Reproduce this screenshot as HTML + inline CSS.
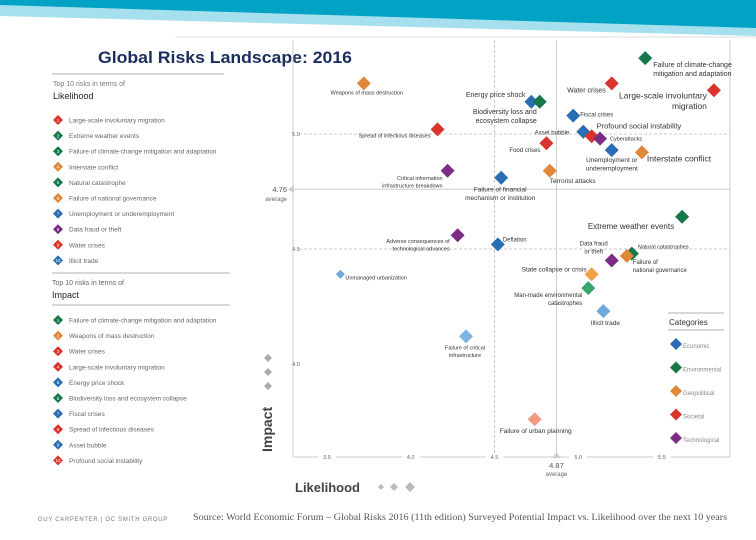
<!DOCTYPE html>
<html><head><meta charset="utf-8"><style>
html,body{margin:0;padding:0;background:#fff;}
svg{display:block;font-family:"Liberation Sans",sans-serif;}
</style></head><body>
<svg id="chart" width="756" height="540" viewBox="0 0 756 540" xmlns="http://www.w3.org/2000/svg">
<g>
<polygon points="0,0 756,0 756,36 0,16" fill="#a6dfee"/>
<polygon points="0,0 756,0 756,28 0,5" fill="#00a3c4"/>
<line x1="175" y1="37" x2="756" y2="37" stroke="#ddd" stroke-width="1"/>
</g>
<text x="98" y="63" font-size="17" font-weight="bold" fill="#1b2c5e" textLength="254" lengthAdjust="spacingAndGlyphs">Global Risks Landscape:  2016</text>

<g id="leftpanel">
<line x1="52" y1="74" x2="224" y2="74" stroke="#999" stroke-width="0.8"/>
<text x="53" y="86" font-size="7" fill="#777">Top 10 risks in terms of</text>
<text x="53" y="99" font-size="9" fill="#222">Likelihood</text>
<line x1="52" y1="273" x2="230" y2="273" stroke="#999" stroke-width="0.8"/>
<text x="52" y="285" font-size="7" fill="#666">Top 10 risks in terms of</text>
<text x="52" y="298" font-size="9" fill="#222">Impact</text>
<line x1="52" y1="305" x2="230" y2="305" stroke="#999" stroke-width="0.8"/>
</g>

<g id="grid"></g>
<g id="marks"></g>

<g>
<text transform="translate(272,452) rotate(-90)" font-size="14" font-weight="bold" fill="#444">Impact</text>
<text x="295" y="492" font-size="13" font-weight="bold" fill="#444">Likelihood</text>
<path d="M381,484 l3,3 l-3,3 l-3,-3z M394,483 l4,4 l-4,4 l-4,-4z M410,482 l5,5 l-5,5 l-5,-5z" fill="#bbb"/>
<path d="M268,354 l4,4 l-4,4 l-4,-4z M268,368 l4,4 l-4,4 l-4,-4z M268,382 l4,4 l-4,4 l-4,-4z" fill="#aaa"/>
</g>

<g>
<line x1="668" y1="313" x2="724" y2="313" stroke="#999" stroke-width="0.8"/>
<line x1="668" y1="330" x2="724" y2="330" stroke="#999" stroke-width="0.8"/>
<text x="669" y="325" font-size="8" fill="#333">Categories</text>
<g id="legend"></g>
</g>

<text x="38" y="521" font-size="6.5" fill="#777" letter-spacing="0.8" textLength="130" lengthAdjust="spacingAndGlyphs">GUY CARPENTER | OC SMITH GROUP</text>
<text x="193" y="520" font-size="9.5" fill="#555" font-family="Liberation Serif, serif" textLength="534" lengthAdjust="spacingAndGlyphs">Source:  World Economic Forum – Global Risks 2016 (11th edition) Surveyed Potential Impact vs. Likelihood over the next 10 years</text>
</svg>
<script>
const risks = ["Failure of climate-change mitigation and adaptation","Large-scale involuntary migration","Water crises","Weapons of mass destruction","Energy price shock","Biodiversity loss and ecosystem collapse","Fiscal crises","Asset bubble","Profound social instability","Cyberattacks","Food crises","Unemployment or underemployment","Interstate conflict","Terrorist attacks","Spread of infectious diseases","Critical information infrastructure breakdown","Failure of financial mechanism or institution","Extreme weather events","Adverse consequences of technological advances","Deflation","Data fraud or theft","Natural catastrophes","Failure of national governance","State collapse or crisis","Man-made environmental catastrophes","Illicit trade","Unmanaged urbanization","Failure of critical infrastructure","Failure of urban planning"];
const likelihood = [5.40,5.81,5.20,3.72,4.72,4.77,4.97,5.03,5.08,5.13,4.81,5.20,5.38,4.83,4.16,4.22,4.54,5.62,4.28,4.52,5.20,5.32,5.29,5.08,5.06,5.15,3.58,4.33,4.74];
const impact = [5.33,5.19,5.22,5.22,5.14,5.14,5.08,5.01,4.99,4.98,4.96,4.93,4.92,4.84,5.02,4.84,4.81,4.64,4.56,4.52,4.45,4.48,4.47,4.39,4.33,4.23,4.39,4.12,3.76];
const category = ["N","S","S","G","E","N","E","E","S","T","S","E","G","G","S","T","E","N","T","E","T","N","G","G","N","E","E","E","S"];
const xTicks = [3.5,4.0,4.5,5.0,5.5];
const yTicks = [5.0,4.5,4.0];
const avgLikelihood = 4.87;
const avgImpact = 4.76;
const likelihoodTop = ["Large-scale involuntary migration","Extreme weather events","Failure of climate-change mitigation and adaptation","Interstate conflict","Natural catastrophe","Failure of national governance","Unemployment or underemployment","Data fraud or theft","Water crises","Illicit trade"];
const likelihoodCat = ["S","N","N","G","N","G","E","T","S","E"];
const impactTop = ["Failure of climate-change mitigation and adaptation","Weapons of mass destruction","Water crises","Large-scale involuntary migration","Energy price shock","Biodiversity loss and ecosystem collapse","Fiscal crises","Spread of infectious diseases","Asset bubble","Profound social instability"];
const impactCat = ["N","G","S","S","E","N","E","S","E","S"];
const catNames = ["Economic","Environmental","Geopolitical","Societal","Technological"];
const catKeys = ["E","N","G","S","T"];

const colors = {E:"#2a6db5",N:"#16784a",G:"#e0883a",S:"#d9342b",T:"#7b2d84"};
const lightIdx = {25:"#6fa8dc",26:"#6fa8dc",27:"#7fb3e0",28:"#f29a7e",24:"#3aa56a",23:"#f2a048"};
// label layout: [dx, dy, anchor, fontSize, lines...]
const labelLayout = [
 [8,9,"start",7,"Failure of climate-change","mitigation and adaptation"],
 [-7,8,"end",8.5,"Large-scale involuntary","migration"],
 [-6,9,"end",7,"Water crises"],
 [3,11,"middle",5.5,"Weapons of mass destruction"],
 [-6,-5,"end",7,"Energy price shock"],
 [-3,12,"end",7,"Biodiversity loss and","ecosystem collapse"],
 [7,1,"start",6,"Fiscal crises"],
 [-14,3,"end",6,"Asset bubble"],
 [5,-8,"start",7.5,"Profound social instability"],
 [10,2,"start",5.5,"Cyberattacks"],
 [-6,9,"end",6,"Food crises"],
 [0,12,"middle",6.5,"Unemployment or","underemployment"],
 [5,9,"start",8.5,"Interstate conflict"],
 [0,12,"start",6.5,"Terrorist attacks"],
 [-43,8,"middle",5.5,"Spread of infectious diseases"],
 [-5,9,"end",5.5,"Critical information","infrastructure breakdown"],
 [-1,14,"middle",6.5,"Failure of financial","mechanism or institution"],
 [-8,12,"end",8,"Extreme weather events"],
 [-8,8,"end",5.5,"Adverse consequences of","technological advances"],
 [5,-3,"start",6,"Deflation"],
 [-18,-15,"middle",6,"Data fraud","or theft"],
 [6,-5,"start",5.5,"Natural catastrophes"],
 [6,8,"start",6,"Failure of","national governance"],
 [-5,-3,"end",6.5,"State collapse or crisis"],
 [-6,9,"end",6,"Man-made environmental","catastrophes"],
 [2,14,"middle",6.5,"Illicit trade"],
 [5,5,"start",5.5,"Unmanaged urbanization"],
 [-1,13,"middle",5.5,"Failure of critical","infrastructure"],
 [1,14,"middle",6.5,"Failure of urban planning"]
];

const NS="http://www.w3.org/2000/svg";
const X0=327, XS=167.5, Y0=134, YS=230;
const L=293, R=730, T=40, B=457;
function xScale(v){return X0+(v-3.5)*XS;}
function yScale(v){return Y0-(v-5.0)*YS;}
function mk(tag,attrs,parent){const e=document.createElementNS(NS,tag);for(const k in attrs)e.setAttribute(k,attrs[k]);parent.appendChild(e);return e;}

const grid=document.getElementById("grid");
mk("line",{x1:L,y1:T,x2:L,y2:B,stroke:"#ccc","stroke-width":1},grid);
mk("line",{x1:R,y1:T,x2:R,y2:B,stroke:"#ccc","stroke-width":1},grid);
mk("line",{x1:L,y1:B,x2:R,y2:B,stroke:"#ccc","stroke-width":1},grid);
xTicks.forEach(v=>{
  const x=xScale(v);
  if(v===4.5){const gl=mk("line",{x1:x,y1:T,x2:x,y2:B,stroke:"#bbb","stroke-dasharray":"3,2","stroke-width":0.8},grid);
  
  }
  mk("rect",{x:x-9,y:B-4,width:18,height:8,fill:"#fff"},grid);
  const t=mk("text",{x:x,y:B+2,"font-size":5.5,fill:"#666","text-anchor":"middle"},grid);
  t.textContent=v.toFixed(1);
  
  
});
yTicks.forEach(v=>{
  const y=yScale(v);
  if(v!==4.0){const gl=mk("line",{x1:L+6,y1:y,x2:R,y2:y,stroke:"#bbb","stroke-dasharray":"3,2","stroke-width":0.8},grid);
  
  }
  const t=mk("text",{x:L+3,y:y+2,"font-size":5.5,fill:"#666","text-anchor":"middle"},grid);
  t.textContent=v.toFixed(1);
  
  
});
const ax=xScale(avgLikelihood), ay=yScale(avgImpact);
const avl=mk("line",{x1:ax,y1:T,x2:ax,y2:B,stroke:"#ccc","stroke-width":1},grid);


const avh=mk("line",{x1:L,y1:ay,x2:R,y2:ay,stroke:"#ccc","stroke-width":1},grid);


mk("path",{d:`M${ax-4},${B+1} L${ax+4},${B+1} L${ax},${B-5}z`,fill:"#ccc"},grid);
mk("path",{d:`M${L+1},${ay-4} L${L+1},${ay+4} L${L-5},${ay}z`,fill:"#ccc"},grid);
let t1=mk("text",{x:ax,y:B+11,"font-size":7.5,fill:"#555","text-anchor":"middle"},grid);t1.textContent=avgLikelihood.toFixed(2);


let t2=mk("text",{x:ax,y:B+19,"font-size":6,fill:"#666","text-anchor":"middle"},grid);t2.textContent="average";
let t3=mk("text",{x:L-6,y:ay+3,"font-size":7.5,fill:"#555","text-anchor":"end"},grid);t3.textContent=avgImpact.toFixed(2);


let t4=mk("text",{x:L-6,y:ay+12,"font-size":6,fill:"#666","text-anchor":"end"},grid);t4.textContent="average";

const marks=document.getElementById("marks");
risks.forEach((name,i)=>{
  const cx=xScale(likelihood[i]), cy=yScale(impact[i]);
  const s = i===26?4.5:7;
  const col = lightIdx[i]||colors[category[i]];
  const g=mk("g",{},marks);
  
  
  mk("path",{d:`M${cx},${cy-s} L${cx+s},${cy} L${cx},${cy+s} L${cx-s},${cy}z`,fill:col},g);
  const lay=labelLayout[i];
  const lines=lay.slice(4);
  lines.forEach((ln,j)=>{
    const t=mk("text",{x:cx+lay[0],y:cy+lay[1]+j*(lay[3]+2),"font-size":lay[3],fill:"#333","text-anchor":lay[2]},g);
    t.textContent=ln;
  });
});

const leg=document.getElementById("legend");
catKeys.forEach((k,i)=>{
  const y=344+i*23.5;
  const g=mk("g",{},leg);
  
  
  mk("path",{d:`M676,${y-6} L682,${y} L676,${y+6} L670,${y}z`,fill:colors[k]},g);
  const t=mk("text",{x:683,y:y+4,"font-size":6,fill:"#888"},g);t.textContent=catNames[i];
});

const lp=document.getElementById("leftpanel");
function list(items,cats,y0){
  items.forEach((n,i)=>{
    const y=y0+i*15.6;
    const g=mk("g",{},lp);
    
    
    mk("path",{d:`M58,${y-5} L63,${y} L58,${y+5} L53,${y}z`,fill:colors[cats[i]]},g);
    const num=mk("text",{x:58,y:y+1.8,"font-size":4.5,fill:"#fff","text-anchor":"middle"},g);num.textContent=i+1;
    const t=mk("text",{x:69,y:y+2.5,"font-size":6.5,fill:"#666"},g);t.textContent=n;
  });
}
list(likelihoodTop,likelihoodCat,120);
list(impactTop,impactCat,320);
</script>
</body></html>
